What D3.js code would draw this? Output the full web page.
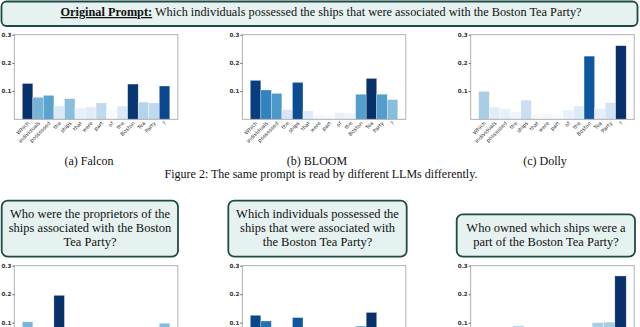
<!DOCTYPE html>
<html>
<head>
<meta charset="utf-8">
<script src="https://cdn.jsdelivr.net/npm/d3@7"></script>
<style>
  body { margin: 0; background: #fff; }
  svg { display: block; }
</style>
</head>
<body>
<svg id="fig" width="640" height="327"></svg>
<script>
// prompt tokens
const tokensOrig = ["Which", "individuals", "possessed", "the", "ships", "that", "were", "part", "of", "the", "Boston", "Tea", "Party", "?"]
const tokensP1 = ["Who", "were", "the", "proprietors", "of", "the", "ships", "associated", "with", "the", "Boston", "Tea", "Party", "?"]
const tokensP2 = ["Which", "individuals", "possessed", "the", "ships", "that", "were", "associated", "with", "the", "Boston", "Tea", "Party", "?"]
const tokensP3 = ["Who", "owned", "which", "ships", "were", "a", "part", "of", "the", "Boston", "Tea", "Party", "?"]

// attention per token
const falconValues = [0.127, 0.078, 0.085, 0.047, 0.073, 0.040, 0.044, 0.058, 0.033, 0.047, 0.125, 0.061, 0.058, 0.118]
const bloomValues = [0.138, 0.104, 0.092, 0.035, 0.131, 0.030, 0.017, 0.014, 0.024, 0.021, 0.089, 0.145, 0.089, 0.070]
const dollyValues = [0.099, 0.043, 0.037, 0.026, 0.068, 0.018, 0.021, 0.015, 0.033, 0.047, 0.224, 0.038, 0.059, 0.261]
const p1Values = [0.103, 0.045, 0.030, 0.196, 0.020, 0.030, 0.070, 0.060, 0.025, 0.030, 0.075, 0.050, 0.055, 0.098]
const p2Values = [0.126, 0.106, 0.070, 0.030, 0.118, 0.025, 0.015, 0.060, 0.020, 0.025, 0.088, 0.136, 0.080, 0.060]
const p3Values = [0.060, 0.050, 0.040, 0.089, 0.020, 0.015, 0.040, 0.020, 0.030, 0.080, 0.100, 0.102, 0.264]

const yTicks = [0.1, 0.2, 0.3]
const subCaptions = ["(a) Falcon", "(b) BLOOM", "(c) Dolly"]
const figCaption = "Figure 2: The same prompt is read by different LLMs differently."
const headLabel = "Original Prompt:"
const headText = " Which individuals possessed the ships that were associated with the Boston Tea Party?"
const promptLines = [
    ["Who were the proprietors of the", "ships associated with the Boston", "Tea Party?"],
    ["Which individuals possessed the", "ships that were associated with", "the Boston Tea Party?"],
    ["Who owned which ships were a", "part of the Boston Tea Party?"]
]

const svg = d3.select('#fig')
const boxFill = '#e5f2f0'
const boxStroke = '#1f4b46'
const serif = '"Liberation Serif", "Times New Roman", serif'
const plotW = 163.5

//header box with the original prompt
svg.append('rect')
    .attr('x', 1.5).attr('y', 1.5).attr('width', 636).attr('height', 24.5)
    .attr('rx', 5).attr('fill', boxFill).attr('stroke', boxStroke).attr('stroke-width', 1.8)
let head = svg.append('text')
    .attr('x', 321).attr('y', 16)
    .attr('text-anchor', 'middle')
    .attr('font-family', serif).attr('font-size', 12.3).attr('fill', '#111')
head.append('tspan').attr('font-weight', 'bold').style('text-decoration', 'underline').text(headLabel)
head.append('tspan').text(headText)

function drawChart(left, top, height, tokens, values, showLabels) {
    let g = svg.append('g')
    let x = d3.scaleBand().domain(d3.range(tokens.length)).range([left + 8, left + plotW - 8]).padding(0)
    let y = d3.scaleLinear().domain([0, 0.3]).range([top + height, top])
    let color = d3.scaleSequential(d3.interpolateBlues).domain(d3.extent(values))

    g.selectAll('.bar')
        .data(values)
        .join('rect')
        .attr('class', 'bar')
        .attr('x', (d, i) => x(i))
        .attr('y', d => y(d))
        .attr('width', x.bandwidth())
        .attr('height', d => y(0) - y(d))
        .attr('fill', d => color(d))
        .attr('stroke', 'rgba(255,255,255,0.6)')
        .attr('stroke-width', 0.5)

    //frame round the plot
    g.append('rect')
        .attr('x', left).attr('y', top).attr('width', plotW).attr('height', height)
        .attr('fill', 'none').attr('stroke', '#a8a8a8').attr('stroke-width', 0.9)

    let axis = g.append('g')
        .attr('transform', `translate(${left},0)`)
        .call(d3.axisLeft(y).tickValues(yTicks).tickSize(2).tickFormat(d3.format('.1f')))
    axis.select('.domain').remove()
    axis.selectAll('line').attr('stroke', '#666')
    axis.selectAll('text')
        .attr('font-family', '"DejaVu Sans", sans-serif')
        .attr('font-size', 5.6).attr('font-weight', 'bold').attr('fill', '#333')
        .attr('x', -3)

    // the lower charts are cut by the page edge, their token labels fall outside it
    if (!showLabels) return
    g.selectAll('.tok')
        .data(tokens)
        .join('text')
        .attr('class', 'tok')
        .attr('transform', (d, i) => `translate(${x(i) + x.bandwidth() / 2 + 1},${top + height + 3}) rotate(-45)`)
        .attr('text-anchor', 'end')
        .attr('dy', '0.35em')
        .attr('font-family', '"DejaVu Sans", sans-serif')
        .attr('font-size', 5.2)
        .attr('fill', '#333')
        .text(d => d)
}

const topLefts = [14.3, 242.3, 470.7]
drawChart(topLefts[0], 34.7, 84.6, tokensOrig, falconValues, true)
drawChart(topLefts[1], 34.7, 84.6, tokensOrig, bloomValues, true)
drawChart(topLefts[2], 34.7, 84.6, tokensOrig, dollyValues, true)

const capCenters = [89, 317, 545]
svg.selectAll('.subcap')
    .data(subCaptions)
    .join('text')
    .attr('class', 'subcap')
    .attr('x', (d, i) => capCenters[i]).attr('y', 165)
    .attr('text-anchor', 'middle')
    .attr('font-family', serif).attr('font-size', 12).attr('fill', '#111')
    .text(d => d)

svg.append('text')
    .attr('x', 321).attr('y', 178)
    .attr('text-anchor', 'middle')
    .attr('font-family', serif).attr('font-size', 12).attr('fill', '#111')
    .text(figCaption)

//paraphrased prompt boxes
const boxes = [
    { x: 1.7, y: 200.7, w: 176.3, h: 56, cx: 90 },
    { x: 228.3, y: 200.7, w: 178.4, h: 56, cx: 317.5 },
    { x: 456.7, y: 214.3, w: 178.3, h: 42.4, cx: 546 }
]
boxes.forEach((b, i) => {
    svg.append('rect')
        .attr('x', b.x).attr('y', b.y).attr('width', b.w).attr('height', b.h)
        .attr('rx', 6).attr('fill', boxFill).attr('stroke', boxStroke).attr('stroke-width', 1.8)
    let lines = promptLines[i]
    svg.selectAll('.pl' + i)
        .data(lines)
        .join('text')
        .attr('class', 'pl' + i)
        .attr('x', b.cx)
        .attr('y', (d, j) => 246 - (lines.length - 1 - j) * 14)
        .attr('text-anchor', 'middle')
        .attr('font-family', serif).attr('font-size', 12.5).attr('fill', '#111')
        .text(d => d)
})

drawChart(topLefts[0], 265.7, 85.5, tokensP1, p1Values, false)
drawChart(topLefts[1], 265.7, 85.5, tokensP2, p2Values, false)
drawChart(topLefts[2], 265.7, 85.5, tokensP3, p3Values, false)
</script>
</body>
</html>
